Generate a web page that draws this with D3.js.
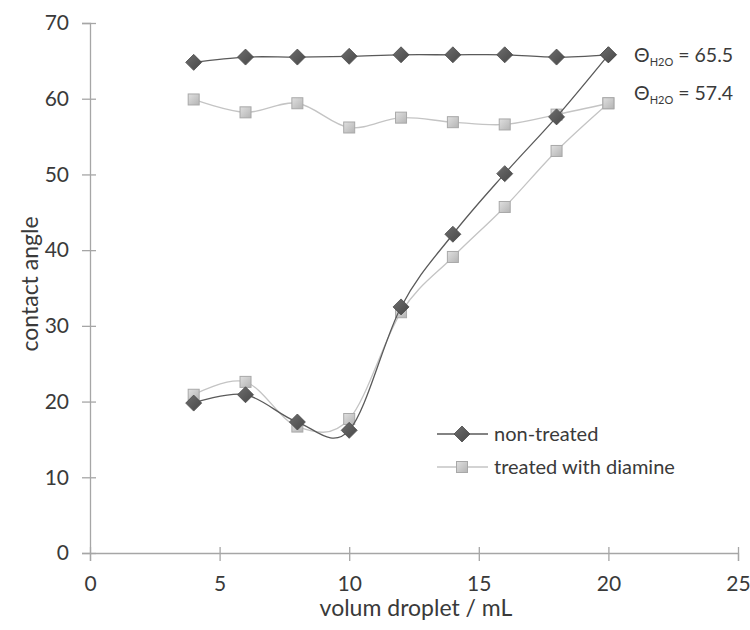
<!DOCTYPE html>
<html><head><meta charset="utf-8">
<script src="https://cdn.jsdelivr.net/npm/d3@7"></script>
<style>body{margin:0;background:#fff;} text{font-family:Lato,"Open Sans",sans-serif;fill:#3a3a3a;}</style>
</head><body><svg id="c" width="750" height="630"></svg>
<script>
const xTicks = [0,5,10,15,20,25];
const yTicks = [0,10,20,30,40,50,60,70];
const volumes = [4,6,8,10,12,14,16,18,20];
// advancing (rising) branch
const nonTreatedAdv = [19.8,20.9,17.3,16.2,32.5,42.1,50.1,57.6,65.8];
const treatedAdv = [20.9,22.6,16.7,17.7,31.8,39.1,45.7,53.1,59.4];
// receding (upper) branch
const nonTreatedRec = [64.8,65.5,65.5,65.6,65.8,65.8,65.8,65.5,65.8];
const treatedRec = [59.9,58.2,59.4,56.2,57.5,56.9,56.6,57.9,59.4];
const seriesNames = ["non-treated","treated with diamine"];
const annotations = ["65.5","57.4"];

const svg = d3.select("#c");
const x = d3.scaleLinear().domain([0,25]).range([90,738]);
const y = d3.scaleLinear().domain([0,70]).range([553,23]);
const axisColor = "#a6a6a6";

// axes
const gx = svg.append("g").attr("transform","translate(0,553)")
  .call(d3.axisBottom(x).tickValues(xTicks).tickSize(8).tickPadding(15));
const gy = svg.append("g").attr("transform","translate(90,0)")
  .call(d3.axisLeft(y).tickValues(yTicks).tickSize(8).tickPadding(13));
[gx,gy].forEach(g=>{
  g.select(".domain").attr("stroke",axisColor).attr("stroke-width",1.3);
  g.selectAll(".tick line").attr("stroke",axisColor).attr("stroke-width",1.3);
  g.selectAll(".tick text").attr("font-size",21).attr("fill","#3a3a3a").attr("font-family","Lato, sans-serif");
});
gx.selectAll(".tick line").attr("y1",-6);
gy.selectAll(".tick line").attr("x1",6);
svg.append("text").attr("x",416).attr("y",616).attr("text-anchor","middle").attr("font-size",23).text("volum droplet / mL");
svg.append("text").attr("transform","translate(38,284) rotate(-90)").attr("text-anchor","middle").attr("font-size",23).text("contact angle");

// gradients
const defs = svg.append("defs");
const gd = defs.append("linearGradient").attr("id","gd").attr("x1","0").attr("y1","0").attr("x2","1").attr("y2","1");
gd.append("stop").attr("offset","0").attr("stop-color","#6e6e6e");
gd.append("stop").attr("offset","1").attr("stop-color","#474747");
const gs = defs.append("linearGradient").attr("id","gs").attr("x1","0").attr("y1","0").attr("x2","1").attr("y2","1");
gs.append("stop").attr("offset","0").attr("stop-color","#e0e0e0");
gs.append("stop").attr("offset","1").attr("stop-color","#b4b4b4");

const line = d3.line().x(d=>x(d[0])).y(d=>y(d[1])).curve(d3.curveCardinal.tension(0));
const styles = [
  {color:"#5a5a5a", width:1.3, sym:"diamond"},
  {color:"#c4c4c4", width:1.3, sym:"square"}
];
const data = [
  [volumes.map((v,i)=>[v,nonTreatedAdv[i]]), volumes.map((v,i)=>[v,nonTreatedRec[i]])],
  [volumes.map((v,i)=>[v,treatedAdv[i]]), volumes.map((v,i)=>[v,treatedRec[i]])]
];
function marker(g, cx, cy, sym){
  if(sym==="diamond"){
    g.append("path").attr("d",`M${cx},${cy-8}L${cx+8},${cy}L${cx},${cy+8}L${cx-8},${cy}Z`)
      .attr("fill","url(#gd)").attr("stroke","#4a4a4a").attr("stroke-width",0.8);
  } else {
    g.append("rect").attr("x",cx-5.5).attr("y",cy-5.5).attr("width",11).attr("height",11)
      .attr("fill","url(#gs)").attr("stroke","#a8a8a8").attr("stroke-width",1);
  }
}
// draw treated first then non-treated on top
[1,0].forEach(si=>{
  const st = styles[si];
  const g = svg.append("g");
  data[si].forEach(br=>{
    g.append("path").attr("d",line(br)).attr("fill","none").attr("stroke",st.color).attr("stroke-width",st.width);
  });
  data[si].forEach(br=>br.forEach(d=>marker(g,x(d[0]),y(d[1]),st.sym)));
});

// legend
seriesNames.forEach((n,i)=>{
  const ly = 434 + i*33;
  const st = styles[i];
  const g = svg.append("g");
  g.append("line").attr("x1",437).attr("x2",488).attr("y1",ly).attr("y2",ly).attr("stroke",st.color).attr("stroke-width",st.width);
  marker(g,462,ly,st.sym);
  g.append("text").attr("x",494).attr("y",ly+7).attr("font-size",20).text(n);
});

// annotations
annotations.forEach((a,i)=>{
  const t = svg.append("text").attr("x",634).attr("y",62+i*38).attr("font-size",19.5);
  t.append("tspan").text("\u0398");
  t.append("tspan").attr("font-size",11).attr("dy",4).text("H2O");
  t.append("tspan").attr("dy",-4).text(" = "+a);
});
</script></body></html>
